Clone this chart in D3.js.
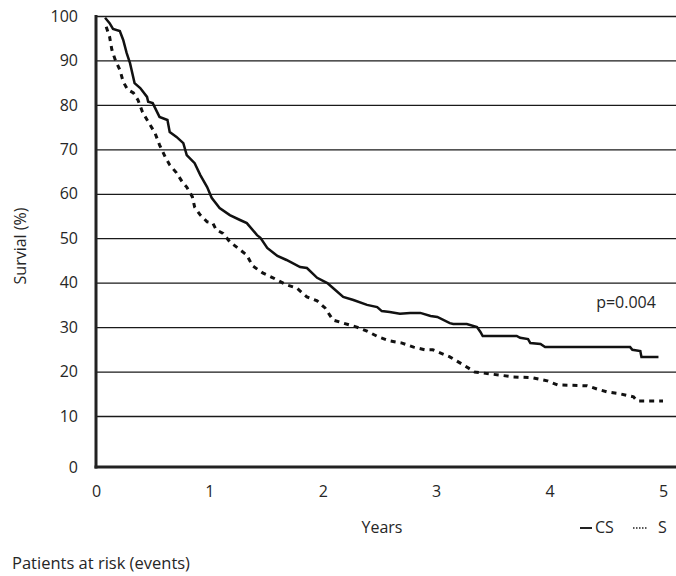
<!DOCTYPE html>
<html>
<head>
<script src="https://cdn.jsdelivr.net/npm/d3@7"></script>
<style>
  html, body { margin: 0; padding: 0; background: #fff; }
  text { font-family: "Open Sans", sans-serif; fill: #262626; }
</style>
</head>
<body>
<script>

var w = 676, h = 576;

// CS arm (solid)
var csTime = [0.08,0.12,0.15,0.21,0.24,0.27,0.30,0.34,0.39,0.45,0.46,0.50,0.56,0.63,0.65,0.71,0.77,0.80,0.87,0.92,
              0.98,1.02,1.09,1.18,1.27,1.33,1.42,1.45,1.51,1.60,1.68,1.80,1.86,1.95,2.04,2.09,2.18,2.27,2.39,2.48,
              2.52,2.59,2.68,2.77,2.86,2.95,3.01,3.12,3.15,3.27,3.36,3.39,3.41,3.71,3.74,3.81,3.83,3.92,3.96,4.71,
              4.73,4.80,4.81,4.96];
var csSurv = [99.6,98.4,97.1,96.6,94.6,91.7,89.4,84.9,83.8,81.8,80.7,80.4,77.3,76.6,73.9,72.8,71.4,68.7,66.9,64.2,
              61.5,59.1,56.8,55.2,54.1,53.4,50.7,50.1,47.8,46.0,45.1,43.5,43.3,41.1,39.9,38.8,36.8,36.1,35.0,34.5,
              33.6,33.4,33.0,33.2,33.2,32.5,32.3,30.9,30.7,30.7,30.0,28.9,28.0,28.0,27.6,27.3,26.4,26.2,25.5,25.5,
              24.9,24.6,23.3,23.3];

// S arm (dashed)
var sTime = [0.09,0.12,0.14,0.17,0.21,0.24,0.28,0.33,0.37,0.41,0.46,0.52,0.56,0.61,0.65,0.71,0.76,0.80,0.85,0.87,
             0.92,0.98,1.03,1.06,1.12,1.18,1.27,1.33,1.38,1.47,1.56,1.68,1.77,1.86,1.95,2.02,2.09,2.18,2.30,2.39,
             2.49,2.59,2.70,2.80,2.90,2.97,3.12,3.24,3.34,3.56,3.68,3.85,3.98,4.07,4.33,4.44,4.51,4.62,4.74,4.77,5.00];
var sSurv = [97.6,95.3,92.4,90.1,87.9,85.2,83.4,82.7,81.1,78.4,76.2,73.7,71.0,68.3,66.5,64.7,62.7,61.5,59.3,57.0,
             55.2,53.7,53.4,51.9,51.1,49.2,47.4,46.2,43.8,42.2,41.1,39.5,38.8,36.8,35.9,34.3,31.6,30.9,30.0,29.1,
             27.8,26.9,26.4,25.5,24.9,24.9,23.3,21.5,19.9,19.2,18.8,18.6,17.9,17.0,16.8,15.9,15.4,15.0,14.3,13.4,13.4];

var xTicks = [0,1,2,3,4,5];
var yTicks = [0,10,20,30,40,50,60,70,80,90,100];

var svg = d3.select("body").append("svg").attr("width", w).attr("height", h);

var x = d3.scaleLinear().domain([0,5]).range([96,663]);
// the printed axis leaves a bigger gap between 0 and 10
var y = d3.scaleLinear().domain([0,10,100]).range([467,416,16]);

// y axis with gridlines
var yAxis = svg.append("g")
  .attr("transform", "translate(96,0)")
  .call(d3.axisLeft(y).tickValues(yTicks).tickSize(-(w-96)).tickPadding(18));
yAxis.select(".domain").remove();
yAxis.selectAll("line").attr("stroke", "#1a1a1a").attr("stroke-width", 1.3)
  .filter(function(d){ return d == 0; }).remove();
yAxis.selectAll("text").style("font-size", "16px").attr("font-family", null);

// x axis labels
var xAxis = svg.append("g")
  .attr("transform", "translate(0,467)")
  .call(d3.axisBottom(x).tickValues(xTicks).tickFormat(d3.format("d")).tickSize(0).tickPadding(19));
xAxis.select(".domain").remove();
xAxis.selectAll("text").style("font-size", "16px").attr("font-family", null);

// main axis lines
svg.append("line").attr("x1", 96).attr("x2", 96).attr("y1", y(100)-1).attr("y2", y(0)+1.5)
  .attr("stroke", "#222").attr("stroke-width", 3);
svg.append("line").attr("x1", 94.5).attr("x2", w).attr("y1", y(0)).attr("y2", y(0))
  .attr("stroke", "#222").attr("stroke-width", 3);

var line = d3.line().x(function(d){ return x(d[0]); }).y(function(d){ return y(d[1]); });

svg.append("path")
  .datum(d3.zip(sTime, sSurv))
  .attr("d", line)
  .attr("fill", "none").attr("stroke", "#111").attr("stroke-width", 3)
  .attr("stroke-dasharray", "5,5");

svg.append("path")
  .datum(d3.zip(csTime, csSurv))
  .attr("d", line)
  .attr("fill", "none").attr("stroke", "#111").attr("stroke-width", 2.5);

// texts
svg.append("text").attr("x", 626).attr("y", 308).attr("text-anchor", "middle")
  .style("font-size", "16px").text("p=0.004");

svg.append("text").attr("x", 382).attr("y", 533).attr("text-anchor", "middle")
  .style("font-size", "16px").text("Years");

svg.append("text").attr("transform", "translate(26,246) rotate(-90)").attr("text-anchor", "middle")
  .style("font-size", "16px").text("Survial (%)");

svg.append("text").attr("x", 12).attr("y", 569)
  .style("font-size", "16.5px").text("Patients at risk (events)");

// legend
svg.append("line").attr("x1", 580).attr("x2", 592).attr("y1", 528).attr("y2", 528)
  .attr("stroke", "#222").attr("stroke-width", 2);
svg.append("text").attr("x", 595).attr("y", 533).style("font-size", "16px").text("CS");
svg.append("line").attr("x1", 633).attr("x2", 647).attr("y1", 528).attr("y2", 528)
  .attr("stroke", "#222").attr("stroke-width", 1.3).attr("stroke-dasharray", "1.5,1.5");
svg.append("text").attr("x", 658).attr("y", 533).style("font-size", "16px").text("S");

</script>
</body>
</html>
